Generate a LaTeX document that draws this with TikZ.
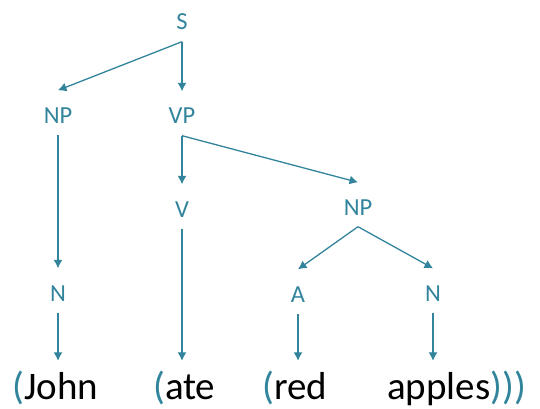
\documentclass[tikz,border=0pt]{standalone}
\usepackage{fontspec}
\setmainfont{Carlito}
\usetikzlibrary{arrows.meta}

\definecolor{treeteal}{RGB}{49,132,155}
\tikzset{
	cat/.style={text=treeteal, font=\fontsize{24.5}{24.5}\selectfont, anchor=base, inner xsep=2pt, inner ysep=11.5pt, text height=21pt, text depth=0pt},
	word/.style={font=\fontsize{39}{39}\selectfont, anchor=base west, inner sep=0pt, text height=38pt, text depth=6pt},
	branch/.style={draw=treeteal, line width=1.3pt, -{Latex[length=8.5pt,width=9pt]}}
}
\newcommand{\lpar}{{\color{treeteal}(}}
\newcommand{\rpar}{{\color{treeteal})}}

\begin{document}
\begin{tikzpicture}[x=1pt,y=-1pt]
	\useasboundingbox (0,0) rectangle (540,409);
	% categories
	\node[cat] (s) at (182,30) {S};
	\node[cat] (np) at (58,123) {NP};
	\node[cat] (vp) at (182,124) {VP};
	\node[cat] (v) at (182,217) {V};
	\node[cat] (npobj) at (358,215) {NP};
	\node[cat] (n) at (58,301) {N};
	\node[cat] (a) at (298,302) {A};
	\node[cat] (nobj) at (433,301) {N};
	% words
	\node[word] (john) at (12,399) {\lpar John};
	\node[word] (ate) at (153,399) {\lpar ate};
	\node[word] (red) at (262,399) {\lpar red};
	\node[word] (apples) at (387,399) {apples\rpar\rpar\rpar};
	% branches
	\draw[branch] (s.south) -- (np.north);
	\draw[branch] (s.south) -- (vp.north);
	\draw[branch] (np.south) -- (n.north);
	\draw[branch] (vp.south) -- (v.north);
	\draw[branch] (vp.south) -- (npobj.north);
	\draw[branch] (npobj.south) -- (a.north);
	\draw[branch] (npobj.south) -- (nobj.north);
	\draw[branch] (n.south) -- (n.south |- john.north);
	\draw[branch] (v.south) -- (v.south |- ate.north);
	\draw[branch] (a.south) -- (a.south |- red.north);
	\draw[branch] (nobj.south) -- (nobj.south |- apples.north);
\end{tikzpicture}
\end{document}
